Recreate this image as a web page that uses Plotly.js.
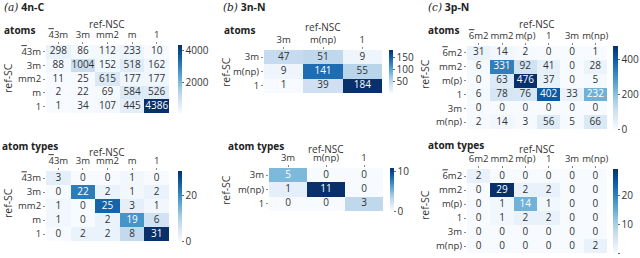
<!DOCTYPE html>
<html><head><meta charset="utf-8">
<script src="https://cdn.plot.ly/plotly-3.0.1.min.js"></script>
<style>html,body{margin:0;padding:0;background:#fff;}#plot{width:640px;height:258px;}</style>
</head><body><div id="plot"></div>
<script>
// ---- data ----
const labelsA = ['4\u03053m', '3m', 'mm2', 'm', '1'];
const atomsA = [
  [298, 86, 112, 233, 10],
  [88, 1004, 152, 518, 162],
  [11, 25, 615, 177, 177],
  [2, 22, 69, 584, 526],
  [1, 34, 107, 445, 4386]
];
const typesA = [
  [3, 0, 0, 1, 0],
  [0, 22, 2, 1, 2],
  [1, 0, 25, 3, 1],
  [1, 0, 2, 19, 6],
  [0, 2, 2, 8, 31]
];
const labelsB = ['3m', 'm(np)', '1'];
const atomsB = [
  [47, 51, 9],
  [9, 141, 55],
  [1, 39, 184]
];
const typesB = [
  [5, 0, 0],
  [1, 11, 0],
  [0, 0, 3]
];
const labelsC = ['6\u0305m2', 'mm2', 'm(p)', '1', '3m', 'm(np)'];
const atomsC = [
  [31, 14, 2, 0, 0, 1],
  [6, 331, 92, 41, 0, 28],
  [0, 63, 476, 37, 0, 5],
  [6, 78, 76, 402, 33, 232],
  [0, 0, 0, 0, 0, 0],
  [2, 14, 3, 56, 5, 66]
];
const typesC = [
  [2, 0, 0, 0, 0, 0],
  [0, 29, 2, 2, 0, 0],
  [0, 1, 14, 1, 0, 0],
  [0, 1, 2, 2, 0, 0],
  [0, 0, 0, 0, 0, 0],
  [0, 0, 0, 0, 0, 2]
];
const cbTicksA1 = [2000, 4000], cbTicksA2 = [0, 20];
const cbTicksB1 = [50, 100, 150], cbTicksB2 = [0, 10];
const cbTicksC1 = [0, 200, 400], cbTicksC2 = [0, 10, 20];

// ---- layout helpers (pixels -> paper) ----
const W = 640, H = 258;
const fx = p => p / W, fy = p => 1 - p / H;
const FONT = 'Open Sans, Noto Sans, DejaVu Sans, sans-serif';
const TXT = '#333333';
const FS = 9.5;
const blues = [[0,'rgb(247,251,255)'],[0.125,'rgb(222,235,247)'],[0.25,'rgb(198,219,239)'],[0.375,'rgb(158,202,225)'],[0.5,'rgb(107,174,214)'],[0.625,'rgb(66,146,198)'],[0.75,'rgb(33,113,181)'],[0.875,'rgb(8,81,156)'],[1,'rgb(8,48,107)']];
// display a combining overline as an overlined span
const disp = s => s.replace(/(.)\u0305/g, "<span style='text-decoration:overline'>$1</span>");

const panels = [
  {labels: labelsA, z: atomsA, g: [46, 169, 45, 113], cb: 178, cbt: 4, ticks: cbTicksA1},
  {labels: labelsA, z: typesA, g: [46, 169, 171, 241], cb: 178, cbt: 4, ticks: cbTicksA2},
  {labels: labelsB, z: atomsB, g: [264, 382, 50, 93], cb: 389, cbt: 4, ticks: cbTicksB1},
  {labels: labelsB, z: typesB, g: [269, 383, 168, 211], cb: 390, cbt: 4, ticks: cbTicksB2},
  {labels: labelsC, z: atomsC, g: [467, 607, 46, 129], cb: 613, cbt: 5, ticks: cbTicksC1},
  {labels: labelsC, z: typesC, g: [467, 607, 169, 253], cb: 613, cbt: 5, ticks: cbTicksC2}
];

const data = [];
const layout = {
  width: W, height: H, margin: {l: 0, r: 0, t: 0, b: 0},
  paper_bgcolor: '#fff', plot_bgcolor: '#fff',
  font: {family: FONT, size: FS, color: TXT},
  showlegend: false, annotations: []
};

panels.forEach((p, i) => {
  const k = i + 1, sx = k === 1 ? '' : String(k);
  const flat = p.z.flat();
  const zmin = Math.min(...flat), zmax = Math.max(...flat);
  const n = p.labels.length;
  const [x0, x1, y0, y1] = p.g;
  data.push({
    type: 'heatmap', x: p.labels, y: p.labels, z: p.z,
    xaxis: 'x' + sx, yaxis: 'y' + sx,
    colorscale: blues, zmin: zmin, zmax: zmax, hoverinfo: 'skip',
    colorbar: {
      x: fx(p.cb), xanchor: 'left', y: fy(y0), yanchor: 'top',
      len: y1 - y0, lenmode: 'pixels', thickness: p.cbt, thicknessmode: 'pixels',
      outlinewidth: 0, xpad: 0, ypad: 0, tickvals: p.ticks,
      ticks: 'outside', ticklen: 2, tickcolor: '#666',
      tickfont: {size: 10, color: TXT, family: FONT}
    }
  });
  const tx = [], ty = [], tt = [], tc = [];
  p.z.forEach((row, r) => row.forEach((v, c) => {
    tx.push(p.labels[c]); ty.push(p.labels[r]); tt.push(String(v));
    tc.push((v - zmin) / (zmax - zmin) >= 0.45 ? '#ffffff' : TXT);
  }));
  data.push({
    type: 'scatter', mode: 'text', x: tx, y: ty, text: tt,
    xaxis: 'x' + sx, yaxis: 'y' + sx, hoverinfo: 'skip',
    textposition: 'middle center',
    textfont: {size: 10, color: tc, family: FONT}
  });
  const common = {
    type: 'category', showgrid: false, zeroline: false, showline: false,
    ticks: 'outside', ticklen: 2, tickcolor: '#888', tickangle: 0,
    tickvals: p.labels, ticktext: p.labels.map(disp),
    tickfont: {size: FS, color: TXT, family: FONT}, fixedrange: true
  };
  layout['xaxis' + sx] = Object.assign({}, common, {
    domain: [fx(x0), fx(x1)], anchor: 'y' + sx, side: 'top',
    range: [-0.5, n - 0.5], ticklabelstandoff: 0
  });
  layout['yaxis' + sx] = Object.assign({}, common, {
    domain: [fy(y1), fy(y0)], anchor: 'x' + sx,
    range: [n - 0.5, -0.5]
  });
});

function ann(text, px, py, opts) {
  layout.annotations.push(Object.assign({
    text: text, x: fx(px), y: fy(py), xref: 'paper', yref: 'paper',
    showarrow: false, xanchor: 'center', yanchor: 'middle',
    font: {size: FS, color: TXT, family: FONT}
  }, opts || {}));
}
const ital = s => "<span style='font-family:DejaVu Serif, Liberation Serif, serif;font-style:italic'>" + s + "</span>";
// panel titles
ann(ital('(a)') + ' <b>4n-C</b>', 2, 7, {xanchor: 'left', font: {size: 10.5, color: '#222', family: FONT}});
ann(ital('(b)') + ' <b>3n-N</b>', 221, 7, {xanchor: 'left', font: {size: 10.5, color: '#222', family: FONT}});
ann(ital('(c)') + ' <b>3p-N</b>', 426, 7, {xanchor: 'left', font: {size: 10.5, color: '#222', family: FONT}});
// sub titles
[[2, 30, 'atoms'], [0, 146, 'atom types'], [222, 30, 'atoms'], [226, 146, 'atom types'], [426, 30, 'atoms'], [426, 145, 'atom types']]
  .forEach(a => ann('<b>' + a[2] + '</b>', a[0], a[1], {xanchor: 'left', font: {size: 10, color: '#222', family: FONT}}));
// ref-NSC labels
[[107, 24], [107, 152], [323, 27], [326, 149], [537, 24], [537, 149]].forEach(a => ann('ref-NSC', a[0], a[1], {font: {size: 10, color: TXT, family: FONT}}));
// ref-SC labels
[[8, 78], [8, 203], [226, 72], [226, 190], [425, 74], [425, 205]].forEach(a => ann('ref-SC', a[0], a[1], {textangle: -90, font: {size: 10.5, color: TXT, family: FONT}}));

Plotly.newPlot('plot', data, layout, {staticPlot: true, displayModeBar: false});
</script></body></html>
